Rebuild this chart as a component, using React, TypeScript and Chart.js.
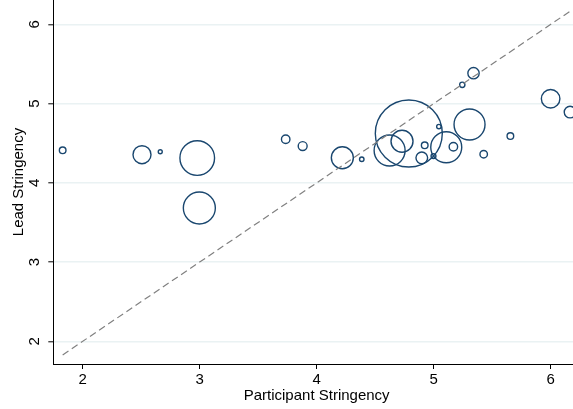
import { useEffect, useRef } from "react";
import { Chart, registerables } from "chart.js";

Chart.register(...registerables);

// Participant stringency (x) for each group
const participantStringency = [
  1.829, 2.507, 2.663, 2.979, 2.997, 3.735, 3.88, 4.219, 4.385, 4.623, 4.729, 4.787, 5.044,
  4.923, 4.898, 4.998, 5.107, 5.168, 5.306, 5.244, 5.34, 5.655, 5.427, 5.999, 6.165,
];
// Lead stringency (y)
const leadStringency = [
  4.41, 4.355, 4.392, 4.313, 3.682, 4.55, 4.464, 4.317, 4.297, 4.408, 4.525, 4.622, 4.71,
  4.473, 4.315, 4.338, 4.449, 4.456, 4.736, 5.237, 5.383, 4.59, 4.361, 5.061, 4.893,
];
// Bubble weights (area-proportional)
const weights = [
  11, 81, 4, 300, 256, 18, 20, 121, 5, 240, 121, 1122, 5, 11, 34, 6, 240, 18, 240, 7, 32, 11,
  14, 86, 34,
];

const xTickValues = [2, 3, 4, 5, 6];
const yTickValues = [2, 3, 4, 5, 6];
const xTitle = "Participant Stringency";
const yTitle = "Lead Stringency";

export default function App() {
  const ref = useRef<HTMLCanvasElement>(null);

  useEffect(() => {
    const font = { family: "'Liberation Sans', Arial, Helvetica, sans-serif", size: 15 };
    const bubbles = participantStringency.map((x, i) => ({
      x,
      y: leadStringency[i],
      r: Math.sqrt(weights[i]),
    }));
    const lo = Math.min(...participantStringency);
    const hi = Math.max(...participantStringency);

    const chart = new Chart(ref.current as HTMLCanvasElement, {
      type: "bubble",
      data: {
        datasets: [
          {
            type: "bubble",
            data: bubbles,
            backgroundColor: "rgba(0,0,0,0)",
            borderColor: "#1a476f",
            borderWidth: 1.4,
            order: 1,
          } as any,
          {
            type: "line",
            data: [
              { x: lo, y: lo },
              { x: hi, y: hi },
            ],
            borderColor: "#808080",
            borderWidth: 1.2,
            borderDash: [7, 4],
            pointRadius: 0,
            fill: false,
            tension: 0,
            order: 0,
          } as any,
        ],
      },
      options: {
        responsive: false,
        animation: false,
        events: [],
        layout: { autoPadding: false, padding: 0 },
        plugins: { legend: { display: false }, tooltip: { enabled: false } },
        scales: {
          x: {
            type: "linear",
            position: "bottom",
            min: 1.749,
            max: 6.25,
            afterBuildTicks: (s: any) => {
              s.ticks = xTickValues.map((v) => ({ value: v }));
            },
            ticks: { font, color: "#000", padding: 1.5, maxRotation: 0, minRotation: 0 },
            grid: {
              display: true,
              drawOnChartArea: false,
              drawTicks: true,
              tickLength: 5,
              tickColor: "#000",
              tickWidth: 1,
            },
            border: { display: true, color: "#000", width: 1 },
            title: {
              display: true,
              text: xTitle,
              font,
              color: "#000",
              padding: { top: 0, bottom: 4.2 },
            },
            afterFit: (s: any) => {
              s.height = 45;
              s.paddingLeft = 0;
              s.paddingRight = 0;
            },
          },
          y: {
            type: "linear",
            position: "left",
            min: 1.714,
            max: 6.307,
            afterBuildTicks: (s: any) => {
              s.ticks = yTickValues.map((v) => ({ value: v }));
            },
            ticks: {
              font,
              color: "#000",
              padding: 9,
              minRotation: 90,
              maxRotation: 90,
              crossAlign: "center",
            },
            grid: {
              display: true,
              color: "#eaf2f3",
              lineWidth: 1.6,
              drawTicks: true,
              tickLength: 5,
              tickColor: "#000",
              tickWidth: 1,
            },
            border: { display: true, color: "#000", width: 1 },
            title: {
              display: true,
              text: yTitle,
              font,
              color: "#000",
              padding: { top: 9.8, bottom: 0 },
            },
            afterFit: (s: any) => {
              s.width = 53.3;
              s.paddingTop = 0;
              s.paddingBottom = 0;
            },
          },
        },
      } as any,
    });
    return () => chart.destroy();
  }, []);

  // The plot region extends slightly past the right edge of the 573px frame, as in the reference.
  return (
    <div
      style={{
        position: "fixed",
        left: 0,
        top: 0,
        width: 573,
        height: 409,
        background: "#fff",
        overflow: "hidden",
      }}
    >
      <canvas ref={ref} width={580} height={409} style={{ display: "block" }} />
    </div>
  );
}
